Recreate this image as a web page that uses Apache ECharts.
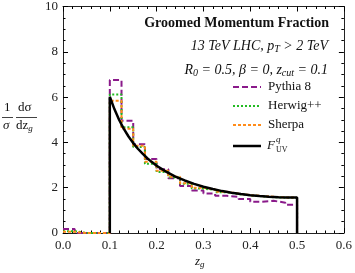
<!DOCTYPE html>
<html><head><meta charset="utf-8">
<script src="https://cdn.jsdelivr.net/npm/echarts@6/dist/echarts.min.js"></script>
<style>html,body{margin:0;padding:0;background:#fff}#c{width:355px;height:273px}</style>
</head><body><div id="c"></div>
<script>
// bin edges of the histograms, width 0.025 (last entry closes the final bin)
const zEdges = [0,0.025,0.05,0.075,0.1,0.125,0.15,0.175,0.2,0.225,0.25,0.275,0.3,0.325,0.35,0.375,0.4,0.425,0.45,0.475,0.5];
const pythia = [0.18,0,0,0,6.75,4.96,3.92,3.27,2.82,2.42,2.07,1.88,1.74,1.64,1.60,1.50,1.38,1.42,1.34,1.25];
const herwig = [0.08,0,0,0,6.12,4.67,3.80,3.06,2.69,2.45,2.17,1.96,1.90,1.80,1.72,1.66,1.62,1.58,1.56,1.55];
const sherpa = [0.05,0,0,0,5.84,4.60,3.85,3.15,2.75,2.48,2.20,2.00,1.92,1.82,1.74,1.67,1.63,1.60,1.57,1.56];
// F_UV^q curve
const curveZ = [0.1,0.1,0.11,0.12,0.13,0.14,0.15,0.16,0.17,0.18,0.19,0.2,0.22,0.24,0.26,0.28,0.3,0.32,0.34,0.36,0.38,0.4,0.42,0.44,0.46,0.48,0.5,0.5];
const curveF = [0,6.02,5.46,4.99,4.60,4.26,3.97,3.72,3.50,3.30,3.13,2.97,2.71,2.49,2.32,2.17,2.04,1.94,1.85,1.78,1.72,1.67,1.63,1.60,1.58,1.57,1.565,0];
const xTicks = ['0.0','0.1','0.2','0.3','0.4','0.5','0.6'];
const yTicks = ['0','2','4','6','8','10'];
const legendNames = ['Pythia 8','Herwig++','Sherpa'];

function hist(vals){
  const d = vals.map((v,i)=>[zEdges[i], v]);
  d.push([zEdges[zEdges.length-1], 0]);
  return d;
}
const serif = '"Liberation Serif","Times New Roman",serif';
const C_P = '#8a1a8a', C_H = '#22bb22', C_S = '#ff8c1a';

const chart = echarts.init(document.getElementById('c'), null, {renderer:'canvas'});
const tickCommon = {inside:true, length:5, lineStyle:{color:'#000', width:1}};
const minorCommon = {show:true, length:2.5, lineStyle:{color:'#000', width:1}};
chart.setOption({
  animation:false,
  grid:{left:63, right:10, top:6, bottom:40},
  xAxis:[
    {type:'value', min:0, max:0.6, interval:0.1,
     axisLine:{show:true, onZero:false, lineStyle:{color:'#222', width:1}},
     axisTick:tickCommon, minorTick:Object.assign({splitNumber:5}, minorCommon),
     splitLine:{show:false},
     axisLabel:{formatter:(v)=>xTicks[Math.round(v*10)], fontFamily:serif, fontSize:13, color:'#222', margin:6}},
    {type:'value', min:0, max:0.6, interval:0.1, position:'top',
     axisLine:{show:true, onZero:false, lineStyle:{color:'#222', width:1}},
     axisTick:tickCommon, minorTick:Object.assign({splitNumber:5}, minorCommon),
     splitLine:{show:false}, axisLabel:{show:false}}
  ],
  yAxis:[
    {type:'value', min:0, max:10, interval:2,
     axisLine:{show:true, onZero:false, lineStyle:{color:'#222', width:1}},
     axisTick:tickCommon, minorTick:Object.assign({splitNumber:4}, minorCommon),
     splitLine:{show:false},
     axisLabel:{formatter:(v)=>yTicks[Math.round(v/2)], fontFamily:serif, fontSize:13, color:'#222', margin:5}},
    {type:'value', min:0, max:10, interval:2, position:'right',
     axisLine:{show:true, onZero:false, lineStyle:{color:'#222', width:1}},
     axisTick:tickCommon, minorTick:Object.assign({splitNumber:4}, minorCommon),
     splitLine:{show:false}, axisLabel:{show:false}}
  ],
  series:[
    {name:legendNames[0], type:'line', step:'end', data:hist(pythia), symbol:'none',
     lineStyle:{color:C_P, width:2, type:[6,3]}, z:3},
    {name:legendNames[1], type:'line', step:'end', data:hist(herwig), symbol:'none',
     lineStyle:{color:C_H, width:2, type:[2,2]}, z:4},
    {name:legendNames[2], type:'line', step:'end', data:hist(sherpa), symbol:'none',
     lineStyle:{color:C_S, width:2, type:[3,2]}, z:5},
    {name:'F', type:'line', data:curveZ.map((z,i)=>[z,curveF[i]]), symbol:'none',
     lineStyle:{color:'#000', width:2.5}, z:6}
  ],
  graphic:[
    {type:'text', right:26, top:16, style:{text:'Groomed Momentum Fraction', font:'bold 14px '+serif, fill:'#111'}},
    {type:'text', right:27, top:39, style:{
      text:'{i|13 TeV LHC, p}{s|T}{i| > 2 TeV}',
      rich:{i:{font:'italic 14px '+serif, fill:'#111'}, s:{font:'italic 10px '+serif, fill:'#111', padding:[6,0,0,0]}}}},
    {type:'text', right:27, top:63, style:{
      text:'{i|R}{s|0}{i| = 0.5, β = 0, z}{s|cut}{i| = 0.1}',
      rich:{i:{font:'italic 14px '+serif, fill:'#111'}, s:{font:'italic 10px '+serif, fill:'#111', padding:[6,0,0,0]}}}},
    {type:'line', shape:{x1:233,y1:87,x2:261,y2:87}, style:{stroke:C_P, lineWidth:2, lineDash:[6,3]}},
    {type:'line', shape:{x1:233,y1:106,x2:261,y2:106}, style:{stroke:C_H, lineWidth:2, lineDash:[2,2]}},
    {type:'line', shape:{x1:233,y1:125,x2:261,y2:125}, style:{stroke:C_S, lineWidth:2, lineDash:[3,2]}},
    {type:'line', shape:{x1:233,y1:146,x2:261,y2:146}, style:{stroke:'#000', lineWidth:2.5}},
    {type:'text', left:268, top:80, style:{text:legendNames[0], font:'13px '+serif, fill:'#111'}},
    {type:'text', left:268, top:99, style:{text:legendNames[1], font:'13px '+serif, fill:'#111'}},
    {type:'text', left:268, top:118, style:{text:legendNames[2], font:'13px '+serif, fill:'#111'}},
    {type:'text', left:267, top:139, style:{text:'F', font:'italic 13px '+serif, fill:'#111'}},
    {type:'text', left:276, top:135, style:{text:'q', font:'italic 9px '+serif, fill:'#111'}},
    {type:'text', left:276, top:146, style:{text:'UV', font:'8px '+serif, fill:'#111'}},
    // y-axis label: (1/σ)(dσ/dz_g)
    {type:'text', left:4, top:101, style:{text:'1', font:'13px '+serif, fill:'#111'}},
    {type:'line', shape:{x1:2,y1:117.5,x2:13,y2:117.5}, style:{stroke:'#111', lineWidth:0.8}},
    {type:'text', left:3, top:119, style:{text:'σ', font:'italic 13px '+serif, fill:'#111'}},
    {type:'text', left:18, top:101, style:{text:'dσ', font:'13px '+serif, fill:'#111'}},
    {type:'line', shape:{x1:16,y1:117.5,x2:37,y2:117.5}, style:{stroke:'#111', lineWidth:0.8}},
    {type:'text', left:16, top:119, style:{text:'{a|dz}{s|g}', rich:{a:{font:'13px '+serif, fill:'#111'}, s:{font:'italic 9px '+serif, fill:'#111', padding:[6,0,0,0]}}}},
    // x-axis label
    {type:'text', left:195, top:255, style:{text:'{a|z}{s|g}', rich:{a:{font:'italic 13px '+serif, fill:'#111'}, s:{font:'italic 9px '+serif, fill:'#111', padding:[6,0,0,0]}}}}
  ]
});
</script></body></html>
